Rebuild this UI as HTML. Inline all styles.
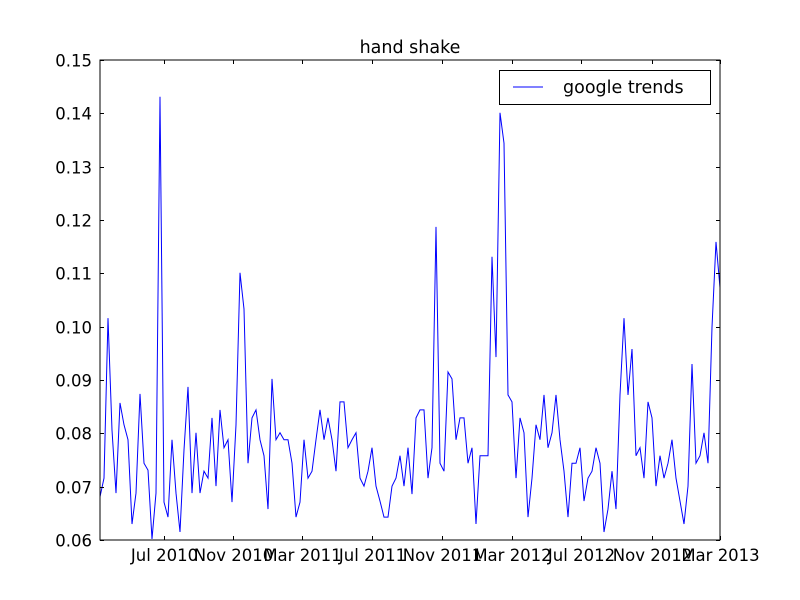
<!DOCTYPE html>
<html><head><meta charset="utf-8"><style>
html,body{margin:0;padding:0;background:#fff;}
svg{display:block;font-family:"DejaVu Sans","Liberation Sans",sans-serif;}
</style></head><body>
<svg id="chart" width="800" height="600" viewBox="0 0 800 600">
<rect x="0" y="0" width="800" height="600" fill="#fff"/>
<text x="410" y="53" font-size="17.5" text-anchor="middle">hand shake</text>
<g id="marks"></g>
<g id="axes"></g>
<rect x="100" y="60" width="620" height="480" fill="none" stroke="#000" stroke-width="1"/>
<g>
<rect x="499.5" y="70.5" width="211" height="34" fill="#fff" stroke="#000" stroke-width="1"/>
<line x1="513" y1="87" x2="543" y2="87" stroke="#0000ff" stroke-width="1"/>
<text x="563" y="93" font-size="17.5">google trends</text>
</g>
</svg>
<script>
const values = [0.0681,0.0716,0.1016,0.0806,0.0688,0.0857,0.0816,0.0788,0.0630,0.0688,
0.0874,0.0744,0.0731,0.0602,0.0688,0.1431,0.0671,0.0643,0.0788,0.0688,
0.0615,0.0769,0.0887,0.0688,0.0801,0.0688,0.0729,0.0716,0.0829,0.0701,
0.0844,0.0773,0.0788,0.0671,0.0816,0.1101,0.1033,0.0744,0.0829,0.0844,
0.0788,0.0758,0.0658,0.0902,0.0788,0.0801,0.0788,0.0788,0.0744,0.0643,
0.0671,0.0788,0.0716,
0.0729,0.0788,0.0844,0.0788,0.0829,0.0788,0.0729,0.0859,0.0859,0.0773,
0.0788,0.0801,0.0716,0.0701,0.0729,0.0773,0.0701,0.0673,0.0643,0.0643,
0.0701,0.0716,0.0758,0.0701,0.0773,0.0686,0.0829,0.0844,0.0844,0.0716,
0.0773,0.1187,0.0744,0.0729,0.0915,0.0902,0.0788,0.0829,0.0829,0.0744,
0.0773,0.0630,0.0758,0.0758,0.0758,0.1131,0.0943,0.1401,0.1344,0.0872,
0.0859,
0.0716,0.0829,0.0801,0.0643,0.0716,0.0816,0.0788,0.0872,0.0773,0.0801,
0.0872,0.0788,0.0729,0.0643,0.0744,0.0744,0.0773,0.0673,0.0716,0.0729,
0.0773,0.0744,0.0615,0.0658,0.0729,0.0658,0.0872,0.1016,0.0872,0.0958,
0.0758,0.0773,0.0716,0.0859,0.0829,0.0701,0.0758,0.0716,0.0744,0.0788,
0.0716,0.0673,0.0630,0.0701,0.0930,0.0744,0.0758,0.0801,0.0744,0.0999,
0.1159,0.1073];
const xTickLabels = ["Jul 2010","Nov 2010","Mar 2011","Jul 2011","Nov 2011","Mar 2012","Jul 2012","Nov 2012","Mar 2013"];
const xTickIndex = [15.9,33.2,50.6,68.0,85.5,102.9,120.3,137.9,155];
const yTicks = [0.06,0.07,0.08,0.09,0.10,0.11,0.12,0.13,0.14,0.15];
const yTickLabels = ["0.06","0.07","0.08","0.09","0.10","0.11","0.12","0.13","0.14","0.15"];

const L=100,R=720,T=60,B=540, yMin=0.06, yMax=0.15;
const xMaxIdx = values.length - 1;
function sx(i){ return L + i*(R-L)/xMaxIdx; }
function sy(v){ return B - (v-yMin)/(yMax-yMin)*(B-T); }
const NS="http://www.w3.org/2000/svg";
const marks=document.getElementById('marks'), axes=document.getElementById('axes');

const pts = values.map((v,i)=>sx(i).toFixed(2)+","+sy(v).toFixed(2)).join(" ");
const pl=document.createElementNS(NS,'polyline');
pl.setAttribute('points',pts);
pl.setAttribute('fill','none');
pl.setAttribute('stroke','#0000ff');
pl.setAttribute('stroke-width','1');


marks.appendChild(pl);

function ln(x1,y1,x2,y2,name){
  const l=document.createElementNS(NS,'line');
  l.setAttribute('x1',x1);l.setAttribute('y1',y1);l.setAttribute('x2',x2);l.setAttribute('y2',y2);
  l.setAttribute('stroke','#000');l.setAttribute('stroke-width','1');
  
  
  axes.appendChild(l);
}
function tx(x,y,s,anchor,name){
  const t=document.createElementNS(NS,'text');
  t.setAttribute('x',x);t.setAttribute('y',y);t.setAttribute('font-size','16.5');
  t.setAttribute('text-anchor',anchor);t.textContent=s;
  
  
  axes.appendChild(t);
}
yTicks.forEach((v,k)=>{
  const y=Math.round(sy(v))+0.5;
  ln(L,y,L+4,y,'y-tick');
  ln(R,y,R-4,y,'y-tick-right');
  tx(L-8,y+6,yTickLabels[k],'end','y-tick-label');
});
xTickIndex.forEach((idx,k)=>{
  const x=Math.round(sx(idx))+0.5;
  ln(x,B,x,B-4,'x-tick');
  ln(x,T,x,T+4,'x-tick-top');
  tx(x,561,xTickLabels[k],'middle','x-tick-label');
});
</script>
</body></html>
